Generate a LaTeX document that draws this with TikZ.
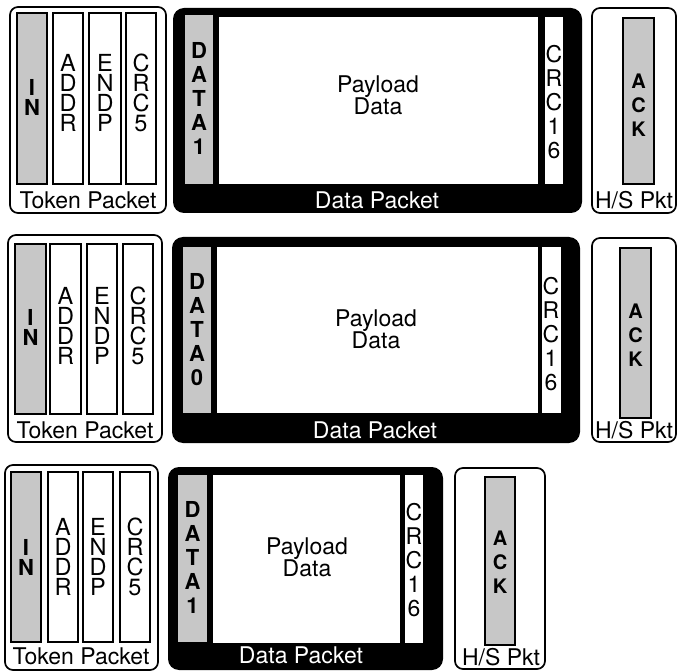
\documentclass[tikz,border=0pt]{standalone}
\usepackage{fontspec}
\setmainfont{TeX Gyre Heros}
\begin{document}
\begin{tikzpicture}[x=1pt,y=-1pt,
  frame/.style={draw=black, line width=1.7pt, rounded corners=8pt, fill=white},
  dframe/.style={fill=black, rounded corners=11pt},
  col/.style={draw=black, line width=1.4pt, fill=white},
  gcol/.style={draw=black, line width=1.4pt, fill=black!22},
  gfill/.style={fill=black!22},
  wfill/.style={fill=white},
  lbl/.style={font=\fontsize{23}{23}\selectfont, inner sep=0pt},
  stack/.style={align=center, inner sep=0pt, font=\fontsize{23.5}{20}\selectfont},
  instack/.style={align=center, inner sep=0pt, font=\bfseries\fontsize{22}{20}\selectfont},
  wstack/.style={align=center, inner sep=0pt, font=\fontsize{23}{24}\selectfont},
  bstack/.style={align=center, inner sep=0pt, font=\bfseries\fontsize{22}{24}\selectfont},
  astack/.style={align=center, inner sep=0pt, font=\bfseries\fontsize{20}{24}\selectfont},
  paystack/.style={align=center, inner sep=0pt, font=\fontsize{23}{22}\selectfont},
]
\useasboundingbox (0,0) rectangle (678,671);

% ---------------- Row 1 ----------------
\draw[frame] (10,7) rectangle (166,213);
\draw[gcol] (17,13) rectangle (47,184);
\draw[col] (53,13) rectangle (83,184);
\draw[col] (89,13) rectangle (121,184);
\draw[col] (126,13) rectangle (156,184);
\node[instack] (in1) at (32,97) {I\\N};
\node[stack] (addr1) at (68,92.5) {A\\D\\D\\R};
\node[stack] (endp1) at (105,92.5) {E\\N\\D\\P};
\node[stack] (crcfa) at (141,92.5) {C\\R\\C\\5};
\node[lbl] (tok1) at (88,200) {Token Packet};

\fill[dframe] (173,8) rectangle (582,213);
\fill[gfill] (185,15) rectangle (213,184);
\fill[wfill] (219,17) rectangle (538,184);
\fill[wfill] (545,17) rectangle (563,184);
\node[bstack] (data1) at (199,98) {D\\A\\T\\A\\1};
\node[paystack] (pay1) at (378,95) {Payload\\Data};
\node[wstack] (crcsa) at (554,102) {C\\R\\C\\1\\6};
\node[lbl, text=white] (dp1) at (377,200) {Data Packet};

\draw[frame] (592,8) rectangle (676,213);
\draw[gcol] (623,18) rectangle (654,184);
\node[astack] (ack1) at (638.5,105) {A\\C\\K};
\node[lbl] (hs1) at (634,200) {H/S Pkt};

% ---------------- Row 2 ----------------
\draw[frame] (8,235) rectangle (162,442);
\draw[gcol] (15,244) rectangle (46,414);
\draw[col] (50,244) rectangle (81,414);
\draw[col] (87,244) rectangle (117,414);
\draw[col] (123,244) rectangle (153,414);
\node[instack] (in2) at (30.5,327.5) {I\\N};
\node[stack] (addr2) at (65.5,326) {A\\D\\D\\R};
\node[stack] (endp2) at (102,326) {E\\N\\D\\P};
\node[stack] (crcfb) at (138,326) {C\\R\\C\\5};
\node[lbl] (tok2) at (85,430) {Token Packet};

\fill[dframe] (172,237) rectangle (580,443);
\fill[gfill] (183,247) rectangle (211,413);
\fill[wfill] (217,247) rectangle (538,413);
\fill[wfill] (542,247) rectangle (561,413);
\node[bstack] (data0) at (197,329.5) {D\\A\\T\\A\\0};
\node[paystack] (pay2) at (376,329) {Payload\\Data};
\node[wstack] (crcsb) at (551,334.5) {C\\R\\C\\1\\6};
\node[lbl, text=white] (dp2) at (375,430) {Data Packet};

\draw[frame] (592,238) rectangle (676,442);
\draw[gcol] (620,248) rectangle (651,418);
\node[astack] (ack2) at (635.5,335) {A\\C\\K};
\node[lbl] (hs2) at (634,430) {H/S Pkt};

% ---------------- Row 3 ----------------
\draw[frame] (5,465) rectangle (158,670);
\draw[gcol] (11,472) rectangle (41,642);
\draw[col] (48,472) rectangle (78,642);
\draw[col] (83,472) rectangle (113,642);
\draw[col] (120,472) rectangle (150,642);
\node[instack] (in3) at (26,557) {I\\N};
\node[stack] (addr3) at (63,557) {A\\D\\D\\R};
\node[stack] (endp3) at (98,557) {E\\N\\D\\P};
\node[stack] (crcfc) at (135,557) {C\\R\\C\\5};
\node[lbl] (tok3) at (81,656) {Token Packet};

\fill[dframe] (168,467) rectangle (443,670);
\fill[gfill] (178,475) rectangle (207,642);
\fill[wfill] (213,475) rectangle (400,643);
\fill[wfill] (405,475) rectangle (423,643);
\node[bstack] (data1b) at (192.5,557.5) {D\\A\\T\\A\\1};
\node[paystack] (pay3) at (307,557.5) {Payload\\Data};
\node[wstack] (crcsc) at (414,560) {C\\R\\C\\1\\6};
\node[lbl, text=white] (dp3) at (301,655) {Data Packet};

\draw[frame] (455,468) rectangle (545,669);
\draw[gcol] (485,477) rectangle (515,645);
\node[astack] (ack3) at (500,562) {A\\C\\K};
\node[lbl] (hs3) at (501,657) {H/S Pkt};
\end{tikzpicture}
\end{document}
